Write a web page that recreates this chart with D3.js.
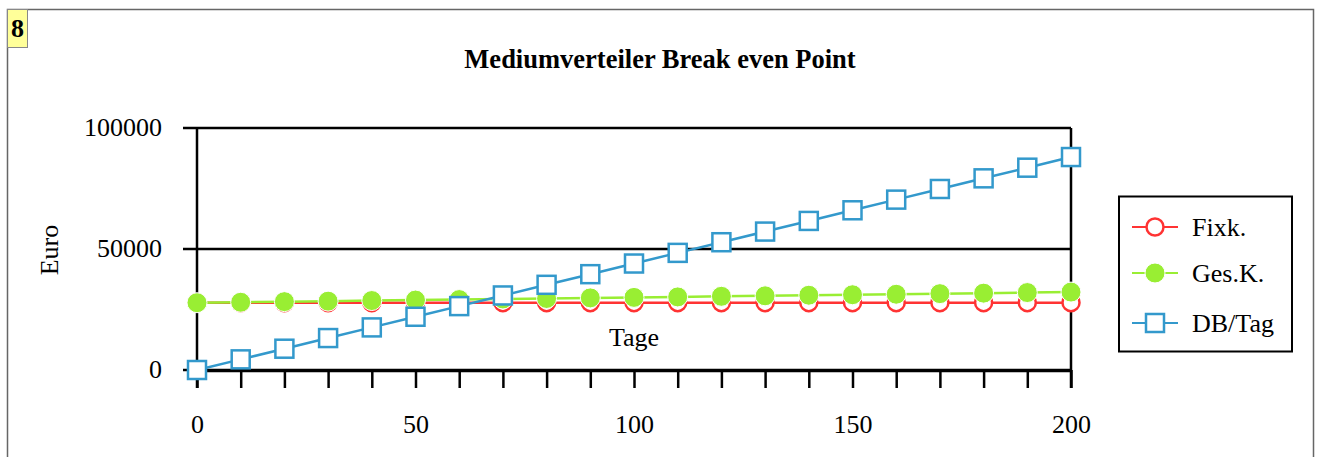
<!DOCTYPE html>
<html>
<head>
<meta charset="utf-8">
<script src="https://cdn.jsdelivr.net/npm/d3@7"></script>
<style>
  body { margin: 0; background: #fff; }
  svg { display: block; font-family: "Liberation Serif", "Times New Roman", serif; }
</style>
</head>
<body>
<div id="chart"></div>
<script>
// values
const tage = [0, 10, 20, 30, 40, 50, 60, 70, 80, 90, 100, 110, 120, 130, 140, 150, 160, 170, 180, 190, 200];
const fixk = [27800, 27800, 27800, 27800, 27800, 27800, 27800, 27800, 27800, 27800, 27800, 27800, 27800, 27800, 27800, 27800, 27800, 27800, 27800, 27800, 27800];
const gesK = [27800, 28000, 28250, 28450, 28700, 28900, 29100, 29350, 29550, 29800, 30000, 30200, 30450, 30650, 30900, 31100, 31300, 31550, 31750, 32000, 32200];
const dbTag = [0, 4400, 8800, 13200, 17600, 22000, 26400, 30800, 35200, 39600, 44000, 48400, 52800, 57200, 61600, 66000, 70400, 74800, 79200, 83600, 88000];
const xTickLabels = [0, 50, 100, 150, 200];
const yTickLabels = [0, 50000, 100000];

const series = [
  { name: "Fixk.", values: fixk, color: "#ff3333", marker: "circle-open" },
  { name: "Ges.K.", values: gesK, color: "#99ee33", marker: "circle-filled" },
  { name: "DB/Tag", values: dbTag, color: "#3399cc", marker: "square" }
];

const width = 1320, height = 457;
const fontSize = 26;

const svg = d3.select("#chart").append("svg")
  .attr("width", width)
  .attr("height", height);

// outer frame and number badge
svg.append("path")
  .attr("d", `M7.5,${height} V9.5 H1313.5 V${height}`)
  .attr("fill", "none")
  .attr("stroke", "#666")
  .attr("stroke-width", 1.5);

svg.append("rect")
  .attr("x", 7.5).attr("y", 9.5)
  .attr("width", 20).attr("height", 38)
  .attr("fill", "#ffff99")
  .attr("stroke", "#888");

svg.append("text")
  .attr("x", 17.5).attr("y", 37)
  .attr("text-anchor", "middle")
  .attr("font-weight", "bold")
  .attr("font-size", fontSize)
  .text("8");

svg.append("text")
  .attr("x", 660).attr("y", 68)
  .attr("text-anchor", "middle")
  .attr("font-weight", "bold")
  .attr("font-size", 26.5)
  .text("Mediumverteiler Break even Point");

const x = d3.scaleLinear().domain([0, 200]).range([197, 1071]);
const y = d3.scaleLinear().domain([0, 100000]).range([370, 128]);

// y gridlines / ticks
svg.append("g")
  .selectAll("line")
  .data(yTickLabels)
  .join("line")
    .attr("x1", 183)
    .attr("x2", d => d === 0 ? 197 : 1071)
    .attr("y1", d => y(d))
    .attr("y2", d => y(d))
    .attr("stroke", "#000")
    .attr("stroke-width", 2.5);

svg.append("g")
  .selectAll("text")
  .data(yTickLabels)
  .join("text")
    .attr("x", 162)
    .attr("y", d => y(d) + 8)
    .attr("text-anchor", "end")
    .attr("font-size", fontSize)
    .text(d => d);

// x axis
const xAxis = d3.axisBottom(x)
  .tickValues(tage)
  .tickSize(18)
  .tickSizeOuter(0)
  .tickFormat(d => xTickLabels.includes(d) ? d : "");

svg.append("g")
  .attr("transform", `translate(0,${y(0)})`)
  .call(xAxis)
  .call(g => g.select(".domain").attr("stroke-width", 3.5))
  .call(g => g.selectAll(".tick line").attr("stroke-width", 2.5))
  .call(g => g.selectAll(".tick text")
    .attr("font-family", "Liberation Serif, serif")
    .attr("font-size", fontSize)
    .attr("fill", "#000")
    .attr("dy", 0)
    .attr("y", 63));

// y axis line and right frame line
svg.append("line")
  .attr("x1", x(0)).attr("x2", x(0))
  .attr("y1", y(100000)).attr("y2", y(0) + 18)
  .attr("stroke", "#000").attr("stroke-width", 2.5);
svg.append("line")
  .attr("x1", x(200)).attr("x2", x(200))
  .attr("y1", y(100000)).attr("y2", y(0) + 18)
  .attr("stroke", "#000").attr("stroke-width", 2.5);

svg.append("text")
  .attr("transform", `translate(58,250) rotate(-90)`)
  .attr("text-anchor", "middle")
  .attr("font-size", fontSize)
  .text("Euro");

svg.append("text")
  .attr("x", 634).attr("y", 346)
  .attr("text-anchor", "middle")
  .attr("font-size", fontSize)
  .text("Tage");

function drawMarker(g, type, color) {
  if (type === "square") {
    g.append("rect")
      .attr("x", -9).attr("y", -9)
      .attr("width", 18).attr("height", 18)
      .attr("fill", "#fff")
      .attr("stroke", color)
      .attr("stroke-width", 2.5);
  } else if (type === "circle-open") {
    g.append("circle").attr("r", 8.5)
      .attr("fill", "#fff")
      .attr("stroke", color)
      .attr("stroke-width", 2.5);
  } else {
    g.append("circle").attr("r", 10)
      .attr("fill", color)
      .attr("stroke", "#fff")
      .attr("stroke-width", 1);
  }
}

const line = d3.line()
  .x((d, i) => x(tage[i]))
  .y(d => y(d));

series.forEach(s => {
  const g = svg.append("g");
  g.append("path")
    .datum(s.values)
    .attr("fill", "none")
    .attr("stroke", s.color)
    .attr("stroke-width", 2.5)
    .attr("d", line);
  g.selectAll("g.pt")
    .data(s.values)
    .join("g")
      .attr("class", "pt")
      .attr("transform", (d, i) => `translate(${x(tage[i])},${y(d)})`)
      .each(function () { drawMarker(d3.select(this), s.marker, s.color); });
});

// legend
const legend = svg.append("g");
legend.append("rect")
  .attr("x", 1119).attr("y", 196.5)
  .attr("width", 173).attr("height", 155)
  .attr("fill", "#fff")
  .attr("stroke", "#000")
  .attr("stroke-width", 2);

const legendY = [227, 273, 323];
series.forEach((s, i) => {
  const g = legend.append("g").attr("transform", `translate(1155,${legendY[i]})`);
  g.append("line")
    .attr("x1", -23).attr("x2", 23)
    .attr("stroke", s.color).attr("stroke-width", 2);
  drawMarker(g, s.marker, s.color);
  legend.append("text")
    .attr("x", 1192).attr("y", legendY[i] + 9)
    .attr("font-size", fontSize)
    .text(s.name);
});
</script>
</body>
</html>
